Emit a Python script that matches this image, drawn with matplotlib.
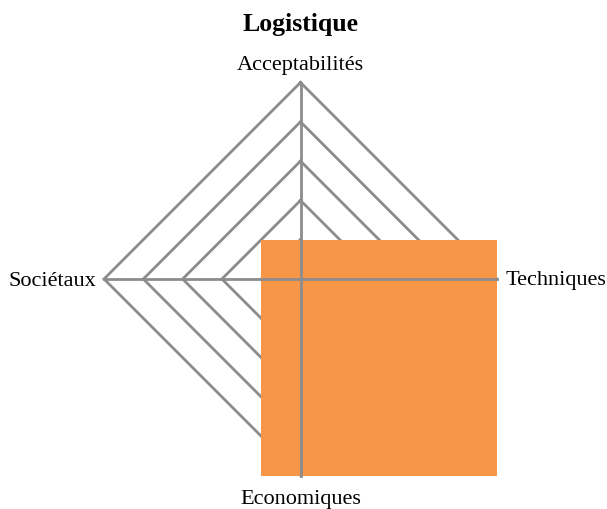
import numpy as np
import matplotlib.pyplot as plt
from matplotlib.patches import Rectangle

plt.rcParams['font.family'] = ['Liberation Serif', 'DejaVu Serif']

title = "Logistique"
axes_labels = ["Acceptabilités", "Techniques", "Economiques", "Sociétaux"]
values = [1, 5, 5, 1]
scale_max = 5
n_rings = 5

W, H = 607, 509
cx, cy, R = 300.5, 279, 196.5

fig = plt.figure(figsize=(W / 100, H / 100), dpi=100)
ax = fig.add_axes([0, 0, 1, 1])
ax.set_xlim(-cx / R, (W - cx) / R)
ax.set_ylim(-(H - cy) / R, cy / R)
ax.axis('off')

# axis directions: top, right, bottom, left
angles = np.pi / 2 - np.arange(len(axes_labels)) * 2 * np.pi / len(axes_labels)
dx, dy = np.cos(angles), np.sin(angles)

grid_col = '#8c8c8c'
for k in range(1, n_rings + 1):
    r = k / n_rings
    xs = np.append(dx * r, dx[0] * r)
    ys = np.append(dy * r, dy[0] * r)
    ax.plot(xs, ys, color=grid_col, lw=2, zorder=1, solid_joinstyle='miter')

# data area (drawn as its bounding box)
r = np.array(values) / scale_max
px, py = dx * r, dy * r
ax.add_patch(Rectangle((px.min(), py.min()), px.max() - px.min(), py.max() - py.min(),
                       facecolor='#F79646', edgecolor='none', zorder=2))

for i in range(len(axes_labels)):
    ax.plot([0, dx[i]], [0, dy[i]], color=grid_col, lw=2, zorder=3)

fs = 16
ax.text(0, 1 + 17 / R, axes_labels[0], ha='center', va='center', fontsize=fs)
ax.text(1 + 9 / R, -2 / R, axes_labels[1], ha='left', va='center', fontsize=fs)
ax.text(0, -1 - 24 / R, axes_labels[2], ha='center', va='center', fontsize=fs)
ax.text(-1 - 8 / R, -2 / R, axes_labels[3], ha='right', va='center', fontsize=fs)

ax.text(0, (cy - 25) / R, title, ha='center', va='center', fontsize=18.5, fontweight='bold')

fig.savefig('out.png', dpi=100)
